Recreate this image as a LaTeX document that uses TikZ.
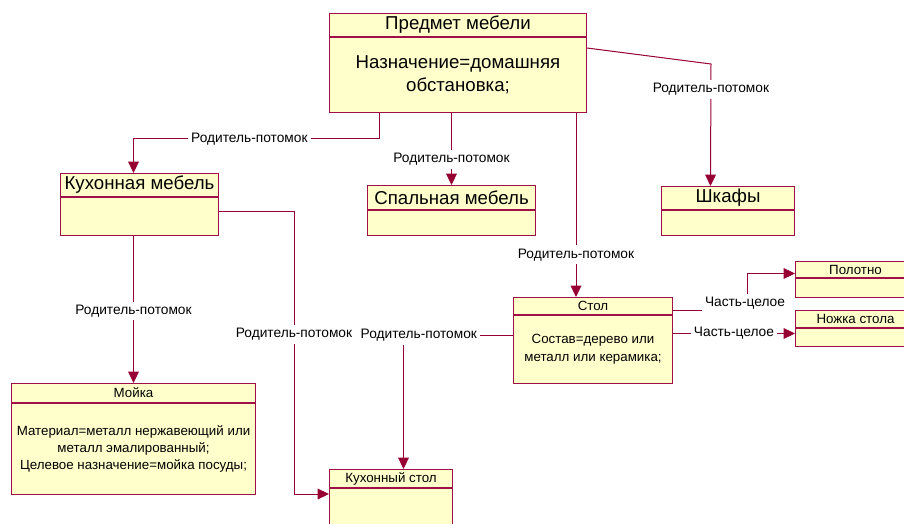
\documentclass[tikz,border=0pt]{standalone}
\usepackage{fontspec}
\setmainfont{Liberation Sans}
\usepackage{tikz}
\usetikzlibrary{arrows.meta,positioning}
\definecolor{umlline}{RGB}{160,16,72}
\definecolor{umlarrow}{RGB}{150,0,50}
\definecolor{umlfill}{RGB}{255,255,204}
\newcommand{\pxu}{0.75pt}
\tikzset{
    clshead/.style={draw=umlline, fill=umlfill, line width=0.75pt, inner sep=0pt, anchor=north west},
    clsbody/.style={draw=umlline, fill=umlfill, line width=0.75pt, inner sep=0pt, align=center},
    bigtxt/.style={font=\fontsize{14}{17}\selectfont},
    smalltxt/.style={font=\fontsize{10}{13}\selectfont},
    link/.style={draw=umlarrow, line width=0.75pt},
    arr/.style={link, -{Triangle[length=8.5pt,width=8pt]}},
    lbl/.style={fill=white, inner sep=2.5pt, font=\fontsize{10.3}{12}\selectfont}
}

\begin{document}
\begin{tikzpicture}[x=0.75pt, y=-0.75pt]
    \useasboundingbox (0,0) rectangle (904,524);
    \clip (0,0) rectangle (904,524);

    \node[clshead, bigtxt, minimum width=257*\pxu, minimum height=23*\pxu] (predmet) at (329,13) {Предмет мебели};
    \node[clsbody, bigtxt, minimum width=257*\pxu, minimum height=75*\pxu, below=0pt of predmet] (predmetB) {Назначение=домашняя\\обстановка;};

    \node[clshead, bigtxt, minimum width=158*\pxu, minimum height=23*\pxu] (kitchen) at (60,173) {Кухонная мебель};
    \node[clsbody, minimum width=158*\pxu, minimum height=38*\pxu, below=0pt of kitchen] (kitchenB) {};

    \node[clshead, bigtxt, minimum width=168*\pxu, minimum height=24*\pxu] (spalnaya) at (367,185) {Спальная мебель};
    \node[clsbody, minimum width=168*\pxu, minimum height=25*\pxu, below=0pt of spalnaya] (spalnayaB) {};

    \node[clshead, bigtxt, minimum width=133*\pxu, minimum height=23*\pxu] (shkafy) at (661,186) {Шкафы};
    \node[clsbody, minimum width=133*\pxu, minimum height=25*\pxu, below=0pt of shkafy] (shkafyB) {};

    \node[clshead, smalltxt, minimum width=159*\pxu, minimum height=17*\pxu] (stol) at (513,297) {Стол};
    \node[clsbody, font=\fontsize{10}{13.5}\selectfont, minimum width=159*\pxu, minimum height=68*\pxu, below=0pt of stol] (stolB) {Состав=дерево или\\металл или керамика;};

    \node[clshead, smalltxt, minimum width=120*\pxu, minimum height=16*\pxu] (polotno) at (795,261) {Полотно};
    \node[clsbody, minimum width=120*\pxu, minimum height=19*\pxu, below=0pt of polotno] (polotnoB) {};

    \node[clshead, smalltxt, minimum width=120*\pxu, minimum height=17*\pxu] (nozhka) at (795,310) {Ножка стола};
    \node[clsbody, minimum width=120*\pxu, minimum height=18*\pxu, below=0pt of nozhka] (nozhkaB) {};

    \node[clshead, smalltxt, minimum width=244*\pxu, minimum height=19*\pxu] (moyka) at (11,383) {Мойка};
    \node[clsbody, font=\fontsize{10}{12.75}\selectfont, minimum width=244*\pxu, minimum height=91*\pxu, below=0pt of moyka] (moykaB) {Материал=металл нержавеющий или\\металл эмалированный;\\Целевое назначение=мойка посуды;};

    \node[clshead, smalltxt, minimum width=123*\pxu, minimum height=18*\pxu] (kstol) at (329,469) {Кухонный стол};
    \node[clsbody, minimum width=123*\pxu, minimum height=60*\pxu, below=0pt of kstol] (kstolB) {};

    \draw[arr] ([xshift=50*\pxu]predmetB.south west) -- ++(0,26)
        -| node[lbl, pos=0.264] {Родитель-потомок} ([xshift=-6*\pxu]kitchen.north);
    \draw[arr] (spalnaya.north |- predmetB.south) -- node[lbl, pos=0.64] {Родитель-потомок} (spalnaya.north);
    \draw[arr] ([xshift=-11*\pxu]predmetB.south east) coordinate (c3)
        -- node[lbl, pos=0.77] {Родитель-потомок} (c3 |- stol.north);
    \draw[arr] ([yshift=-11*\pxu]predmetB.north east) -- ++(124,16)
        -- node[lbl, pos=0.21] {Родитель-потомок} ([xshift=-17.5*\pxu]shkafy.north);
    \draw[arr] (kitchenB.south -| moyka.north) -- node[lbl, pos=0.51] {Родитель-потомок} (moyka.north);
    \draw[arr] ([yshift=5*\pxu]kitchenB.east) -- ++(75,0)
        |- node[lbl, pos=0.217] {Родитель-потомок} ([yshift=-6*\pxu]kstolB.north west);
    \draw[arr] ([yshift=14*\pxu]stolB.west)
        -| node[lbl, pos=0.43] {Родитель-потомок} ([xshift=12.5*\pxu]kstol.north);
    \draw[arr] ([yshift=-4.5*\pxu]stol.east)
        -| node[lbl, pos=0.5, xshift=-2*\pxu, yshift=7*\pxu] {Часть-целое} ([xshift=-48*\pxu, yshift=-4*\pxu]polotno.west)
        -- ([yshift=-4*\pxu]polotno.west);
    \draw[arr] ([yshift=16*\pxu]stolB.east) coordinate (c9)
        -- node[lbl, pos=0.5] {Часть-целое} (c9 -| nozhkaB.west);
\end{tikzpicture}
\end{document}
